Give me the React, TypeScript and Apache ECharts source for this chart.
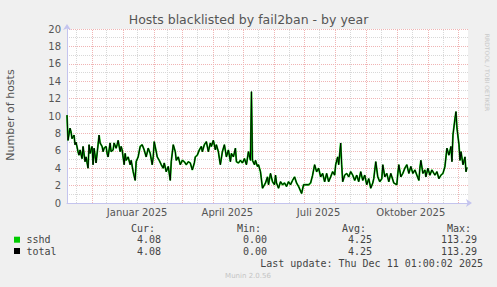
import React, { useEffect, useRef } from "react";
import * as echarts from "echarts";

// ---- data ----
const chartTitle = "Hosts blacklisted by fail2ban - by year";
const yAxisTitle = "Number of hosts";
const rangeStart = "2024-11-06T01:00:00Z";
const rangeEnd = "2025-12-11T01:00:02Z";

const sampleDays = [0,1,3,4,5,7,8,9,11,12,13,15,16,18,19,21,22,23,25,26,27,29,31,32,33,35,36,37,39,40,41,43,44,46,47,49,50,51,53,54,55,57,58,59,61,63,64,66,68,69,71,73,75,77,79,81,83,85,86,87,89,90,92,94,96,97,99,101,103,104,106,108,109,111,113,115,117,119,121,123,125,127,128,130,132,134,135,137,139,141,143,144,146,148,149,151,152,153,155,157,159,161,163,164,166,168,169,171,173,175,177,179,181,183,184,185,187,188,190,191,193,195,197,198,200,201,203,205,207,208,209,211,213,215,217,219,221,223,225,227,229,231,234,236,238,241,243,245,247,249,251,253,255,257,259,261,263,265,267,268,270,271,273,274,275,277,279,281,283,285,287,289,291,293,295,297,299,301,303,305,306,308,310,312,314,315,317,319,321,323,326,329,330,331,333,335,337,339,341,343,345,347,349,351,352,353,355,357,358,360,362,364,367,369,371,373,375,377,379,381,383,384,385,387,388,389,391,392,393,395,397,398,399];

const hostsValues = [10.1,7.2,8.6,8.2,7.4,7.8,6.7,7.0,5.9,5.5,6.1,5.1,6.5,4.75,5.3,4.0,6.7,5.7,6.5,4.4,6.3,4.6,6.7,7.8,6.9,6.5,5.9,6.3,6.5,5.7,5.3,6.9,5.9,6.1,6.9,6.3,6.7,7.2,5.9,6.5,6.1,4.4,5.7,4.9,5.3,4.4,4.9,3.6,2.6,4.75,5.3,6.5,6.7,6.1,5.3,6.3,5.7,4.4,5.3,7.05,5.9,5.3,4.9,4.4,4.0,4.6,3.6,4.2,2.6,4.75,6.7,5.9,4.9,5.3,4.4,4.9,4.75,4.4,4.75,4.6,3.8,4.6,5.3,5.5,6.1,6.5,5.9,6.7,7.05,5.9,6.9,6.5,7.2,6.1,6.7,5.9,5.1,4.4,5.9,6.7,5.3,6.1,4.75,5.7,5.3,6.3,4.75,4.6,4.9,4.6,5.1,4.4,5.9,4.9,12.8,4.9,4.4,4.9,4.2,4.4,3.6,1.7,2.1,2.3,3.0,2.1,3.4,2.45,2.1,3.2,2.3,1.7,2.45,2.1,2.3,1.9,2.45,2.1,2.6,3.0,2.3,1.9,1.1,2.1,2.1,2.1,2.3,3.2,4.4,3.6,4.0,3.0,3.4,2.45,3.4,2.45,3.0,3.6,3.2,4.4,5.3,4.4,6.9,4.4,2.45,3.2,3.4,3.0,3.6,3.2,2.6,3.2,2.45,3.6,2.6,3.2,2.1,2.8,1.7,2.3,2.8,4.75,3.0,2.45,2.8,4.4,3.0,3.4,2.45,3.4,2.3,2.1,3.4,4.4,3.0,3.4,4.0,4.4,3.4,4.2,3.4,3.8,3.2,2.6,4.0,4.9,3.4,3.8,3.0,4.0,3.2,3.8,3.2,3.6,2.8,3.2,3.4,4.2,6.3,5.5,6.5,4.75,7.8,9.7,10.5,8.6,6.7,4.9,5.9,4.4,5.3,3.6,4.1];

const monthStarts = ["2024-12-01","2025-01-01","2025-02-01","2025-03-01","2025-04-01","2025-05-01","2025-06-01","2025-07-01","2025-08-01","2025-09-01","2025-10-01","2025-11-01","2025-12-01"];
const minorGridDates = ["2024-11-15","2024-12-15","2025-01-15","2025-02-14","2025-03-16","2025-04-16","2025-05-16","2025-06-16","2025-07-16","2025-08-16","2025-09-16","2025-10-16","2025-11-16"];
const xLabelDates = ["2025-01-15","2025-04-15","2025-07-15","2025-10-15"];
const xLabelTexts = ["Januar 2025","April 2025","Juli 2025","Oktober 2025"];

const legendNames = ["sshd", "total"];
const legendColors = ["#00cc00", "#000000"];
const statHeaders = ["Cur:", "Min:", "Avg:", "Max:"];
const statValues = [
  ["4.08", "0.00", "4.25", "113.29"],
  ["4.08", "0.00", "4.25", "113.29"],
];
const lastUpdate = "Last update: Thu Dec 11 01:00:02 2025";
const footer = "Munin 2.0.56";
const watermark = "RRDTOOL / TOBI OETIKER";

const DAY = 86400000;
const toTs = (s: string) => Date.parse(s.length === 10 ? s + "T00:00:00Z" : s);

export default function App() {
  const ref = useRef<HTMLDivElement>(null);
  useEffect(() => {
    if (!ref.current) return;
    const chart = echarts.init(ref.current, null, { renderer: "svg" });
    const t0 = toTs(rangeStart);
    const t1 = toTs(rangeEnd);
    const seriesData = sampleDays.map((d, i) => [t0 + d * DAY, hostsValues[i]]);
    const labelTs = xLabelDates.map(toTs);
    const sans = '"DejaVu Sans", sans-serif';
    const mono = '"DejaVu Sans Mono", monospace';
    const textColor = "#555";
    const legendColor = "#444";

    const gridLines = [
      ...minorGridDates.map((d) => ({ xAxis: toTs(d), lineStyle: { color: "#d8d8d8", type: [1, 1], width: 1 } })),
      ...monthStarts.map((d) => ({ xAxis: toTs(d), lineStyle: { color: "#f0b4b4", type: [1, 1], width: 1 } })),
    ];

    const colX = [155, 261, 366, 471];
    const valRight = [161, 267, 372, 477];
    const rowY = [239.7, 251];
    const graphic: any[] = [
      { type: "text", x: 248.5, y: 19, style: { text: chartTitle, font: `12.5px ${sans}`, fill: textColor, textAlign: "center", textVerticalAlign: "middle" } },
      { type: "text", x: 10.5, y: 115, rotation: Math.PI / 2, style: { text: yAxisTitle, font: `11px ${sans}`, fill: textColor, textAlign: "center", textVerticalAlign: "middle" } },
      { type: "text", x: 487, y: 72.5, rotation: -Math.PI / 2, style: { text: watermark, font: `6px ${sans}`, fill: "#c8c8c8", textAlign: "center", textVerticalAlign: "middle" } },
      { type: "text", x: 248, y: 276, style: { text: footer, font: `7px ${sans}`, fill: "#c4c4c4", textAlign: "center", textVerticalAlign: "middle" } },
      { type: "text", x: 483, y: 263.7, style: { text: lastUpdate, font: `10px ${mono}`, fill: legendColor, textAlign: "right", textVerticalAlign: "middle" } },
    ];
    statHeaders.forEach((h, i) => {
      graphic.push({ type: "text", x: colX[i], y: 228.3, style: { text: h, font: `10px ${mono}`, fill: legendColor, textAlign: "right", textVerticalAlign: "middle" } });
    });
    legendNames.forEach((n, r) => {
      graphic.push({ type: "rect", shape: { x: 14, y: rowY[r] - 3, width: 6, height: 6 }, style: { fill: legendColors[r] } });
      graphic.push({ type: "text", x: 26.5, y: rowY[r], style: { text: n, font: `10px ${mono}`, fill: legendColor, textAlign: "left", textVerticalAlign: "middle" } });
      statValues[r].forEach((v, i) => {
        graphic.push({ type: "text", x: valRight[i], y: rowY[r], style: { text: v, font: `10px ${mono}`, fill: legendColor, textAlign: "right", textVerticalAlign: "middle" } });
      });
    });

    chart.setOption({
      animation: false,
      backgroundColor: "#f0f0f0",
      grid: { left: 67, right: 29, top: 29, bottom: 84, show: true, backgroundColor: "#ffffff", borderWidth: 0 },
      xAxis: {
        type: "value",
        min: t0,
        max: t1,
        axisLine: { show: true, symbol: ["none", "arrow"], symbolSize: [6, 6], symbolOffset: [0, 4], lineStyle: { color: "#c4c4ee", width: 1 } },
        axisTick: { show: false },
        splitLine: { show: false },
        axisLabel: {
          customValues: labelTs,
          margin: 4,
          color: textColor,
          fontFamily: sans,
          fontSize: 10,
          formatter: (v: number) => {
            const i = labelTs.indexOf(v);
            return i >= 0 ? xLabelTexts[i] : "";
          },
        },
      },
      yAxis: {
        type: "value",
        min: 0,
        max: 20,
        interval: 2,
        axisLine: { show: true, symbol: ["none", "arrow"], symbolSize: [6, 6], symbolOffset: [0, 5], lineStyle: { color: "#c4c4ee", width: 1 } },
        axisTick: { show: false },
        axisLabel: { color: textColor, fontFamily: sans, fontSize: 10, margin: 6 },
        splitLine: { show: true, lineStyle: { color: "#f0b4b4", type: [1, 1], width: 1 } },
        minorTick: { show: false, splitNumber: 2 },
        minorSplitLine: { show: true, lineStyle: { color: "#d8d8d8", type: [1, 1], width: 1 } },
      },
      series: [
        {
          name: "grid",
          type: "line",
          data: [],
          z: 0,
          silent: true,
          markLine: { silent: true, z: 0, symbol: ["none", "none"], label: { show: false }, data: gridLines },
        },
        {
          name: legendNames[0],
          type: "line",
          data: seriesData,
          showSymbol: false,
          symbol: "none",
          z: 3,
          lineStyle: { color: "#00cc00", width: 1.8 },
        },
        {
          name: legendNames[1],
          type: "line",
          data: seriesData,
          showSymbol: false,
          symbol: "none",
          z: 4,
          lineStyle: { color: "#000000", width: 1 },
        },
      ],
      graphic,
    });
    return () => chart.dispose();
  }, []);
  return <div ref={ref} style={{ position: "fixed", left: 0, top: 0, width: 497, height: 287 }} />;
}
